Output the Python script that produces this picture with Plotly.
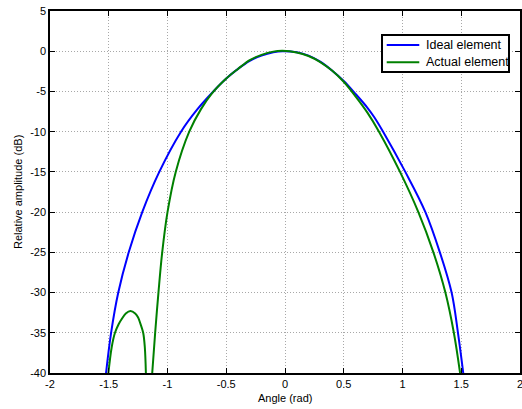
import plotly.graph_objects as go

# Ideal element (angle in rad, relative amplitude in dB)
ideal_x = [-1.523, -1.48, -1.419, -1.33, -1.215, -1.07, -0.885, -0.745, -0.61, -0.5,
           -0.4, -0.3, -0.2, -0.1, -0.02, 0.1, 0.2, 0.3, 0.4, 0.5,
           0.6, 0.7, 0.76, 0.835, 1.024, 1.195, 1.318, 1.418, 1.472, 1.517]
ideal_y = [-40, -35, -30, -25, -20, -15, -10, -7.2, -5, -3.4,
           -2.2, -1.2, -0.54, -0.13, 0.0, -0.13, -0.55, -1.3, -2.4, -3.7,
           -5.3, -7.0, -8.2, -10, -15, -20, -25, -30, -35, -40]

# Actual element (side lobe, gap at the null, then main lobe)
actual_x = [-1.503, -1.475, -1.447, -1.415, -1.39, -1.355, -1.315, -1.275, -1.25, -1.23,
            -1.207, -1.193, -1.184, None,
            -1.13, -1.105, -1.077, -1.045, -1.0, -0.93, -0.815, -0.715, -0.625, -0.5,
            -0.4, -0.3, -0.2, -0.1, -0.02, 0.1, 0.2, 0.3, 0.4, 0.5,
            0.6, 0.7, 0.8, 0.979, 1.135, 1.263, 1.365, 1.437, 1.49]
actual_y = [-40, -36.8, -35, -33.9, -33.3, -32.6, -32.3, -32.6, -33.1, -33.9,
            -35, -36.8, -40, None,
            -40, -35, -30, -25, -20, -15, -10, -7.2, -5.3, -3.4,
            -2.2, -1.1, -0.45, -0.05, 0.05, -0.15, -0.6, -1.35, -2.4, -3.8,
            -5.6, -7.6, -10, -15, -20, -25, -30, -35, -40]

x_ticks = [-2, -1.5, -1, -0.5, 0, 0.5, 1, 1.5, 2]
x_tick_labels = ["-2", "-1.5", "-1", "-0.5", "0", "0.5", "1", "1.5", "2"]
y_ticks = [5, 0, -5, -10, -15, -20, -25, -30, -35, -40]
y_tick_labels = ["5", "0", "-5", "-10", "-15", "-20", "-25", "-30", "-35", "-40"]

series_names = ["Ideal element", "Actual element"]
series_colors = ["#0000ff", "#008000"]

fig = go.Figure()
fig.add_trace(go.Scatter(x=ideal_x, y=ideal_y, mode="lines", name=series_names[0],
                         line=dict(color=series_colors[0], width=2, shape="spline", smoothing=1.0)))
fig.add_trace(go.Scatter(x=actual_x, y=actual_y, mode="lines", name=series_names[1],
                         connectgaps=False,
                         line=dict(color=series_colors[1], width=2, shape="spline", smoothing=1.0)))

font = dict(family="Liberation Sans, Arial, sans-serif", size=11, color="black")
axis_common = dict(showline=True, linecolor="black", linewidth=1.5, mirror="ticks",
                   ticks="inside", ticklen=5, tickcolor="black", tickwidth=1,
                   showgrid=True, gridcolor="#a8a8a8", griddash="1px,2px", gridwidth=1,
                   zeroline=False, tickfont=font, automargin=False,
                   ticklabeloverflow="allow")
fig.update_xaxes(range=[-2, 2], tickvals=x_ticks, ticktext=x_tick_labels, **axis_common)
fig.update_yaxes(range=[-40, 5], tickvals=y_ticks, ticktext=y_tick_labels, **axis_common)

fig.add_annotation(text="Angle (rad)", xref="paper", yref="paper", x=0.5, y=-0.069,
                   xanchor="center", yanchor="middle", showarrow=False, font=font)
fig.add_annotation(text="Relative amplitude (dB)", xref="paper", yref="paper", x=-0.068, y=0.5,
                   xanchor="center", yanchor="middle", textangle=-90, showarrow=False, font=font)

# Legend box (MATLAB style), drawn in paper coordinates
fig.add_shape(type="rect", xref="paper", yref="paper", x0=0.7064, x1=0.9766, y0=0.8315, y1=0.9337,
              line=dict(color="black", width=2), fillcolor="white", layer="above")
legend_rows_y = [0.9061, 0.8583]
for name, color, ly in zip(series_names, series_colors, legend_rows_y):
    fig.add_shape(type="line", xref="paper", yref="paper", x0=0.7164, x1=0.7857, y0=ly, y1=ly,
                  line=dict(color=color, width=2), layer="above")
    fig.add_annotation(text=name, xref="paper", yref="paper", x=0.7947, y=ly,
                       xanchor="left", yanchor="middle", showarrow=False,
                       font=dict(family="Liberation Sans, Arial, sans-serif", size=12.5, color="black"))

fig.update_layout(
    template="none",
    width=522, height=409,
    margin=dict(l=50, r=2, t=11, b=36, autoexpand=False),
    paper_bgcolor="white", plot_bgcolor="white",
    font=font,
    showlegend=False,
)

fig.write_html("out.html", config={"displayModeBar": False},
               post_script="document.body.style.margin='0';document.documentElement.style.overflow='hidden';")
